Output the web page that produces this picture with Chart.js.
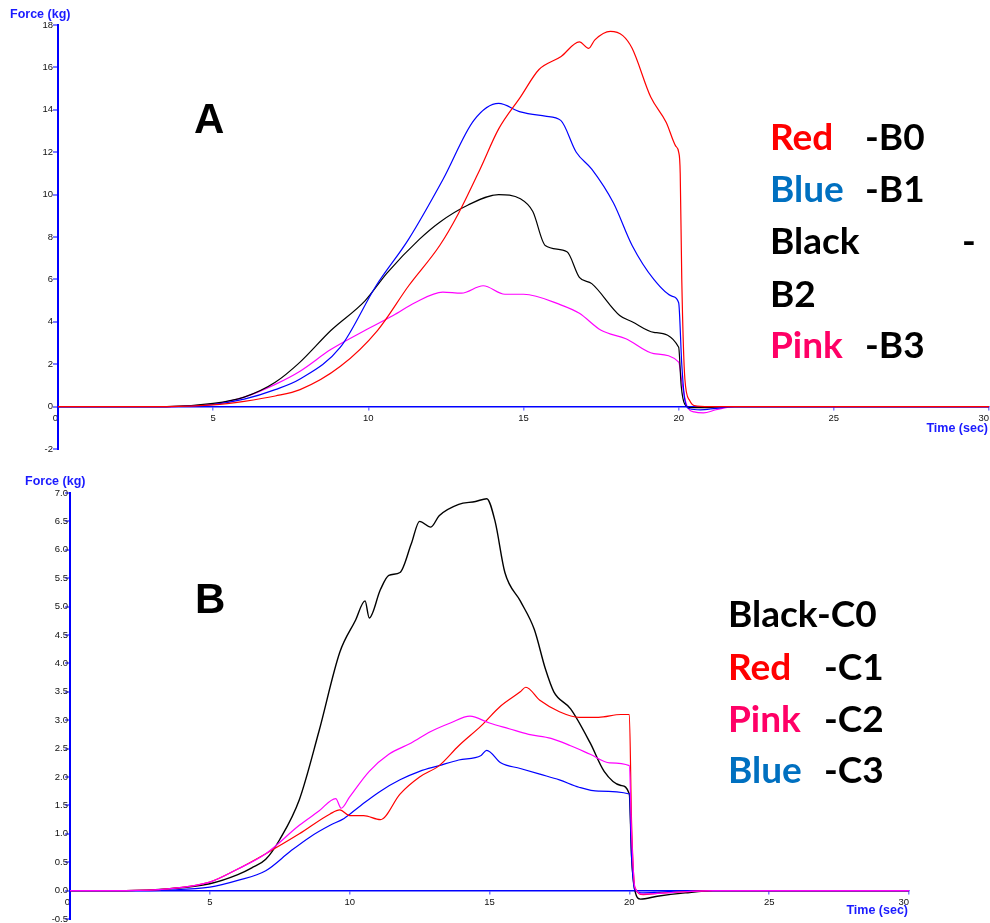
<!DOCTYPE html>
<html>
<head>
<meta charset="utf-8">
<script src="https://cdn.jsdelivr.net/npm/chart.js@4.4.1/dist/chart.umd.min.js"></script>
<style>
  html, body { margin: 0; padding: 0; background: #fff; }
  #page { position: relative; width: 990px; height: 923px; overflow: hidden; }
  canvas { position: absolute; left: 0; }
  .lbl { position: absolute; white-space: pre; line-height: 1; }
  .big { font-family: Lato, "Open Sans", sans-serif; font-weight: 700; font-size: 37px; }
  .letter { font-family: "Liberation Sans", Arial, sans-serif; font-weight: 700; font-size: 42px; color: #000; }
  .axt { font-family: "Liberation Sans", Arial, sans-serif; font-weight: 700; font-size: 12.5px; color: #1a1aff; }
</style>
</head>
<body>
<div id="page">
  <canvas id="chartA" width="990" height="460" style="top:0"></canvas>
  <canvas id="chartB" width="990" height="453" style="top:470px"></canvas>

  <div class="lbl axt" style="left:10px;top:8px">Force (kg)</div>
  <div class="lbl axt" style="right:2px;top:422px">Time (sec)</div>
  <div class="lbl axt" style="left:25px;top:475px">Force (kg)</div>
  <div class="lbl axt" style="right:82px;top:904px">Time (sec)</div>

  <div class="lbl letter" style="left:194px;top:98px">A</div>
  <div class="lbl letter" style="left:195px;top:578px">B</div>

  <!-- legenda do grafico A -->
  <div class="lbl big" style="left:770px;top:117px;color:#ff0000">Red</div>
  <div class="lbl big" style="left:865px;top:117px;color:#000">-B0</div>
  <div class="lbl big" style="left:770px;top:169px;color:#0070c0">Blue</div>
  <div class="lbl big" style="left:865px;top:169px;color:#000">-B1</div>
  <div class="lbl big" style="left:770px;top:221px;color:#000">Black</div>
  <div class="lbl big" style="left:962px;top:221px;color:#000">-</div>
  <div class="lbl big" style="left:770px;top:274px;color:#000">B2</div>
  <div class="lbl big" style="left:770px;top:325px;color:#ff0066">Pink</div>
  <div class="lbl big" style="left:865px;top:325px;color:#000">-B3</div>

  <!-- legenda do grafico B -->
  <div class="lbl big" style="left:728px;top:594px;color:#000">Black-C0</div>
  <div class="lbl big" style="left:728px;top:647px;color:#ff0000">Red</div>
  <div class="lbl big" style="left:824px;top:647px;color:#000">-C1</div>
  <div class="lbl big" style="left:728px;top:699px;color:#ff0066">Pink</div>
  <div class="lbl big" style="left:824px;top:699px;color:#000">-C2</div>
  <div class="lbl big" style="left:728px;top:750px;color:#0070c0">Blue</div>
  <div class="lbl big" style="left:824px;top:750px;color:#000">-C3</div>
</div>

<script>
// ================= DADOS: GRAFICO A (B0..B3) =================
const tB0 = [0, 3.5, 5, 6, 7, 7.8, 9.1, 10.3, 11.3, 12.3, 12.9, 13.6, 14.2, 14.9, 15.5, 16.2, 16.8, 17.1, 17.3, 17.8, 18.2, 18.5, 19.1, 19.6, 19.9, 20.0, 20.05, 20.1, 20.2, 20.35, 20.5, 21, 30];
const vB0 = [0, 0, 0.08, 0.25, 0.5, 0.8, 1.9, 3.6, 5.7, 7.6, 9.1, 11.2, 13.1, 14.6, 15.9, 16.5, 17.2, 16.9, 17.3, 17.7, 17.5, 16.9, 14.6, 13.4, 12.3, 12.0, 11.0, 6.0, 1.3, 0.3, 0.05, 0, 0];

const tB1 = [0, 3.5, 5, 6, 7, 7.8, 9.1, 10.25, 11.3, 12.4, 13.4, 14.2, 14.9, 15.7, 16.2, 16.7, 17.2, 17.9, 18.5, 19.2, 19.8, 20.0, 20.1, 20.2, 20.35, 20.7, 21.2, 21.8, 30];
const vB1 = [0, 0, 0.1, 0.35, 0.8, 1.3, 2.8, 5.7, 7.9, 10.7, 13.5, 14.3, 13.9, 13.7, 13.5, 12.0, 11.2, 9.6, 7.6, 6.0, 5.2, 4.9, 2.0, 0.3, -0.1, -0.15, -0.08, 0, 0];

const tB2 = [0, 3.5, 5, 6, 7, 7.8, 8.8, 9.9, 10.6, 11.65, 12.3, 13.2, 14.2, 14.9, 15.3, 15.7, 16.4, 16.8, 17.2, 18.1, 18.5, 19.2, 20.0, 20.08, 20.2, 20.4, 20.8, 21.5, 30];
const vB2 = [0, 0, 0.15, 0.45, 1.15, 2.1, 3.6, 5.0, 6.3, 7.9, 8.7, 9.5, 10.0, 9.8, 9.2, 7.6, 7.3, 6.1, 5.8, 4.3, 4.0, 3.5, 2.8, 1.0, 0.1, -0.05, -0.05, 0, 0];

const tB3 = [0, 3, 5, 6, 7, 7.8, 8.8, 9.9, 10.8, 11.5, 12.4, 13.0, 13.7, 14.4, 15.0, 16.2, 16.8, 17.5, 18.3, 19.2, 20.0, 20.1, 20.25, 20.5, 20.8, 21.2, 21.8, 30];
const vB3 = [0, 0, 0.12, 0.45, 1.05, 1.67, 2.7, 3.6, 4.3, 4.9, 5.4, 5.35, 5.7, 5.3, 5.3, 4.8, 4.4, 3.6, 3.2, 2.5, 2.1, 1.2, 0.1, -0.25, -0.3, -0.15, 0, 0];

// ================= DADOS: GRAFICO B (C0..C3) =================
const tC0 = [0, 2, 3.5, 5, 6, 6.5, 7, 7.5, 8.2, 8.9, 9.65, 10.2, 10.55, 10.7, 11.1, 11.4, 11.8, 12.2, 12.5, 12.9, 13.2, 13.9, 14.5, 14.9, 15.2, 15.55, 16.1, 16.6, 17.0, 17.3, 17.9, 18.6, 19.1, 19.7, 20.0, 20.08, 20.2, 20.4, 21, 22, 23, 30];
const vC0 = [0, 0, 0.03, 0.12, 0.28, 0.4, 0.55, 0.9, 1.6, 2.8, 4.2, 4.75, 5.1, 4.8, 5.3, 5.55, 5.6, 6.1, 6.5, 6.4, 6.6, 6.8, 6.85, 6.9, 6.5, 5.6, 5.1, 4.6, 3.9, 3.5, 3.2, 2.6, 2.1, 1.85, 1.7, 0.6, 0, -0.15, -0.1, -0.04, 0, 0];

const tC1 = [0, 2, 3.5, 5, 6, 7, 8.2, 9.3, 9.65, 10.0, 10.5, 11.1, 11.8, 12.5, 13.2, 13.9, 14.7, 15.4, 16.1, 16.3, 16.8, 17.5, 18.2, 18.9, 19.7, 20.0, 20.08, 20.2, 20.5, 21, 22, 23, 30];
const vC1 = [0, 0, 0.03, 0.15, 0.38, 0.65, 1.0, 1.35, 1.42, 1.32, 1.32, 1.25, 1.7, 2.0, 2.2, 2.55, 2.9, 3.25, 3.5, 3.58, 3.35, 3.15, 3.05, 3.05, 3.1, 3.1, 1.2, 0.05, -0.07, -0.05, -0.02, 0, 0];

const tC2 = [0, 2, 3.5, 5, 6, 7, 8.2, 8.9, 9.5, 9.7, 10.0, 10.7, 11.4, 12.2, 12.9, 13.6, 14.3, 15.0, 15.7, 16.4, 17.2, 17.9, 18.6, 19.3, 20.0, 20.08, 20.2, 20.5, 21, 22, 23, 30];
const vC2 = [0, 0, 0.03, 0.15, 0.38, 0.65, 1.15, 1.4, 1.62, 1.45, 1.65, 2.1, 2.4, 2.6, 2.8, 2.95, 3.07, 2.95, 2.85, 2.75, 2.68, 2.55, 2.4, 2.25, 2.2, 1.0, 0.05, -0.06, -0.05, -0.02, 0, 0];

const tC3 = [0, 2, 3.5, 5, 6, 7, 7.9, 8.6, 9.3, 9.8, 10.4, 11.1, 11.8, 12.5, 13.2, 13.9, 14.7, 14.9, 15.4, 16.1, 16.8, 17.5, 18.2, 18.9, 20.0, 20.08, 20.2, 20.5, 21, 22, 30];
const vC3 = [0, 0, 0.01, 0.06, 0.18, 0.35, 0.7, 0.95, 1.15, 1.27, 1.5, 1.75, 1.95, 2.1, 2.2, 2.3, 2.38, 2.47, 2.25, 2.15, 2.05, 1.95, 1.82, 1.75, 1.7, 0.6, 0.0, -0.04, -0.03, 0, 0];

// ================= EIXOS =================
const xTicks = [0, 5, 10, 15, 20, 25, 30];
const yTicksA = [-2, 0, 2, 4, 6, 8, 10, 12, 14, 16, 18];
const yTicksB = [-0.5, 0, 0.5, 1, 1.5, 2, 2.5, 3, 3.5, 4, 4.5, 5, 5.5, 6, 6.5, 7];

const AXIS_BLUE = '#0000ff';
const TICK_BLUE = '#7f7fff';
const tickFont = { family: "'Liberation Sans', Arial, sans-serif", size: 9.5 };
const NB = '\u00a0';

function pts(ts, vs) { return ts.map((t, i) => ({ x: t, y: vs[i] })); }

function serie(ts, vs, color, w) {
    return {
        data: pts(ts, vs), borderColor: color, borderWidth: w || 1.2,
        pointRadius: 0, fill: false, cubicInterpolationMode: 'monotone'
    };
}

// o primeiro e o ultimo rotulo do eixo X ficam deslocados para dentro, como no original
function xLabel(v) {
    if (v === 0) return '0' + NB + NB;
    if (v === 30) return '30' + NB.repeat(4);
    return String(v);
}

function makeChart(id, datasets, yTicks, yFmt, yWidth, pad) {
    const ctx = document.getElementById(id).getContext('2d');
    return new Chart(ctx, {
        type: 'line',
        data: { datasets },
        options: {
            responsive: false, animation: false, devicePixelRatio: 1,
            layout: { padding: pad },
            plugins: { legend: { display: false }, tooltip: { enabled: false } },
            scales: {
                x: {
                    type: 'linear', min: 0, max: 30, position: { y: 0 },
                    afterBuildTicks: s => { s.ticks = xTicks.map(v => ({ value: v })); },
                    afterFit: s => { s.paddingLeft = 0; s.paddingRight = 0; },
                    border: { display: true, color: AXIS_BLUE, width: 1.5 },
                    grid: { display: true, drawOnChartArea: false, drawTicks: true, tickLength: 3, color: TICK_BLUE, lineWidth: 1.5 },
                    ticks: { font: tickFont, color: '#111', padding: 3, maxRotation: 0, autoSkip: false, callback: xLabel }
                },
                y: {
                    type: 'linear', min: yTicks[0], max: yTicks[yTicks.length - 1],
                    afterBuildTicks: s => { s.ticks = yTicks.map(v => ({ value: v })); },
                    afterFit: s => { s.width = yWidth; s.paddingTop = 0; s.paddingBottom = 0; },
                    border: { display: true, color: AXIS_BLUE, width: 2 },
                    grid: { display: true, drawOnChartArea: false, drawTicks: true, tickLength: 5, color: TICK_BLUE, lineWidth: 2 },
                    ticks: { font: tickFont, color: '#111', padding: yFmt ? -3 : 0, autoSkip: false,
                             callback: v => yFmt ? v.toFixed(1) : String(v) }
                }
            }
        }
    });
}

window.onload = () => {
    // dataset 0 fica por cima
    makeChart('chartA', [
        serie(tB0, vB0, '#ff0000'),
        serie(tB1, vB1, '#0000ff'),
        serie(tB2, vB2, '#000000'),
        serie(tB3, vB3, '#ff00ff')
    ], yTicksA, false, 58, { top: 25, right: 1, bottom: 11, left: 0 });

    makeChart('chartB', [
        serie(tC2, vC2, '#ff00ff'),
        serie(tC1, vC1, '#ff0000'),
        serie(tC3, vC3, '#0000ff'),
        serie(tC0, vC0, '#000000', 1.4)
    ], yTicksB, true, 70, { top: 23, right: 81, bottom: 4, left: 0 });
};
</script>
</body>
</html>
